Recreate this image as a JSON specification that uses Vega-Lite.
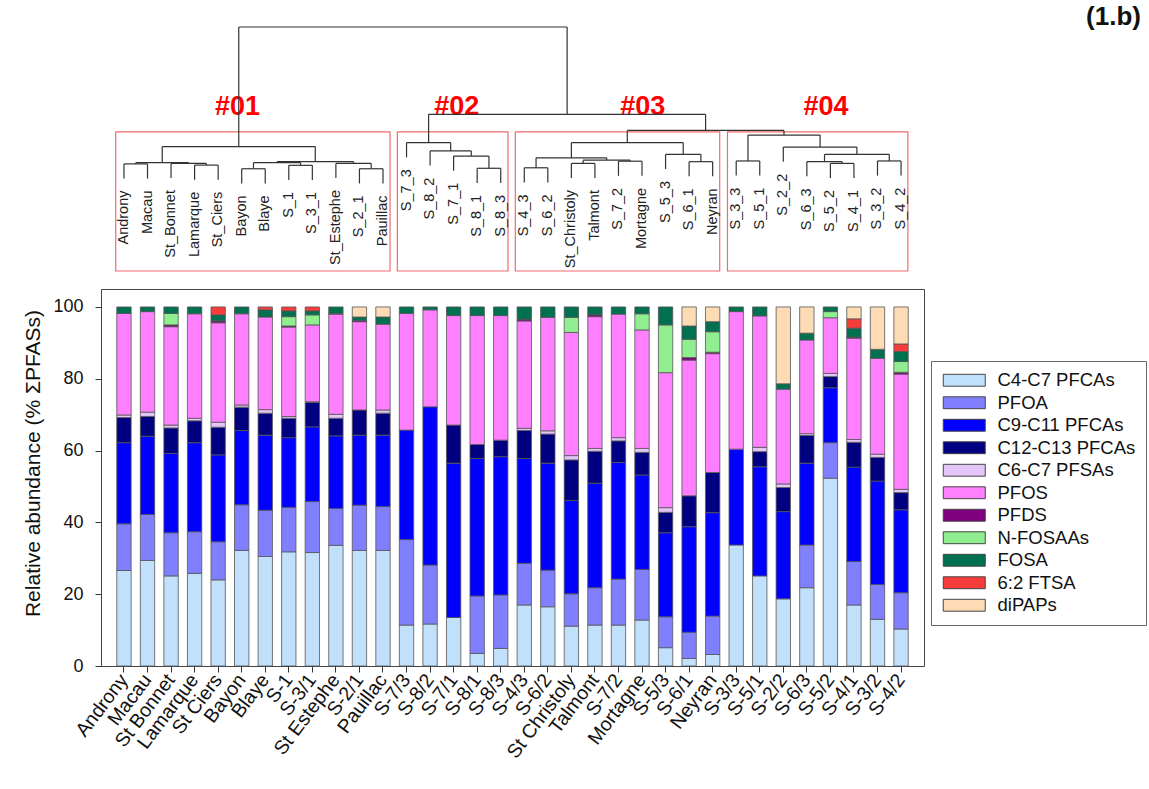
{
  "$schema": "https://vega.github.io/schema/vega-lite/v6.json",
  "background": "white",
  "padding": {"left": 22, "top": 4, "right": 0, "bottom": 0},
  "config": {
    "font": "Liberation Sans",
    "view": {"stroke": "#444"}
  },
  "title": {
    "text": "(1.b)",
    "anchor": "end",
    "fontSize": 26,
    "fontWeight": "bold",
    "color": "#111",
    "offset": -4,
    "dx": -6
  },
  "datasets": {
    "classes": [
      {"class": "C4-C7 PFCAs", "rank": 1},
      {"class": "PFOA", "rank": 2},
      {"class": "C9-C11 PFCAs", "rank": 3},
      {"class": "C12-C13 PFCAs", "rank": 4},
      {"class": "C6-C7 PFSAs", "rank": 5},
      {"class": "PFOS", "rank": 6},
      {"class": "PFDS", "rank": 7},
      {"class": "N-FOSAAs", "rank": 8},
      {"class": "FOSA", "rank": 9},
      {"class": "6:2 FTSA", "rank": 10},
      {"class": "diPAPs", "rank": 11}
    ],
    "profiles": [
      {"site": "Androny", "C4-C7 PFCAs": 26.6, "PFOA": 13.0, "C9-C11 PFCAs": 22.6, "C12-C13 PFCAs": 7.0, "C6-C7 PFSAs": 0.7, "PFOS": 28.3, "FOSA": 1.8},
      {"site": "Macau", "C4-C7 PFCAs": 29.4, "PFOA": 12.8, "C9-C11 PFCAs": 21.8, "C12-C13 PFCAs": 5.5, "C6-C7 PFSAs": 1.2, "PFOS": 28.0, "FOSA": 1.3},
      {"site": "St Bonnet", "C4-C7 PFCAs": 25.1, "PFOA": 12.0, "C9-C11 PFCAs": 22.1, "C12-C13 PFCAs": 7.1, "C6-C7 PFSAs": 0.8, "PFOS": 27.4, "PFDS": 0.5, "N-FOSAAs": 3.2, "FOSA": 1.8},
      {"site": "Lamarque", "C4-C7 PFCAs": 25.8, "PFOA": 11.6, "C9-C11 PFCAs": 24.8, "C12-C13 PFCAs": 6.1, "C6-C7 PFSAs": 0.7, "PFOS": 29.1, "FOSA": 1.9},
      {"site": "St Ciers", "C4-C7 PFCAs": 24.0, "PFOA": 10.6, "C9-C11 PFCAs": 24.2, "C12-C13 PFCAs": 7.7, "C6-C7 PFSAs": 1.4, "PFOS": 27.7, "PFDS": 0.5, "FOSA": 1.7, "6:2 FTSA": 2.2},
      {"site": "Bayon", "C4-C7 PFCAs": 32.2, "PFOA": 12.7, "C9-C11 PFCAs": 20.7, "C12-C13 PFCAs": 6.5, "C6-C7 PFSAs": 0.6, "PFOS": 25.4, "FOSA": 1.9},
      {"site": "Blaye", "C4-C7 PFCAs": 30.5, "PFOA": 12.9, "C9-C11 PFCAs": 20.9, "C12-C13 PFCAs": 6.1, "C6-C7 PFSAs": 1.0, "PFOS": 25.8, "FOSA": 2.0, "6:2 FTSA": 0.8},
      {"site": "S-1", "C4-C7 PFCAs": 31.8, "PFOA": 12.4, "C9-C11 PFCAs": 19.4, "C12-C13 PFCAs": 5.4, "C6-C7 PFSAs": 0.5, "PFOS": 24.9, "PFDS": 0.3, "N-FOSAAs": 2.6, "FOSA": 1.6, "6:2 FTSA": 1.1},
      {"site": "S-3/1", "C4-C7 PFCAs": 31.6, "PFOA": 14.2, "C9-C11 PFCAs": 20.8, "C12-C13 PFCAs": 6.8, "C6-C7 PFSAs": 0.2, "PFOS": 21.4, "N-FOSAAs": 2.8, "FOSA": 1.1, "6:2 FTSA": 1.1},
      {"site": "St Estephe", "C4-C7 PFCAs": 33.6, "PFOA": 10.3, "C9-C11 PFCAs": 20.2, "C12-C13 PFCAs": 4.9, "C6-C7 PFSAs": 1.1, "PFOS": 27.9, "PFDS": 0.2, "FOSA": 1.8},
      {"site": "S-2/1", "C4-C7 PFCAs": 32.2, "PFOA": 12.6, "C9-C11 PFCAs": 19.5, "C12-C13 PFCAs": 7.0, "PFOS": 24.6, "PFDS": 0.3, "FOSA": 1.0, "diPAPs": 2.8},
      {"site": "Pauillac", "C4-C7 PFCAs": 32.2, "PFOA": 12.2, "C9-C11 PFCAs": 19.9, "C12-C13 PFCAs": 6.1, "C6-C7 PFSAs": 0.9, "PFOS": 23.9, "FOSA": 2.0, "diPAPs": 2.8},
      {"site": "S-7/3", "C4-C7 PFCAs": 11.4, "PFOA": 23.8, "C9-C11 PFCAs": 30.5, "PFOS": 32.5, "FOSA": 1.8},
      {"site": "S-8/2", "C4-C7 PFCAs": 11.7, "PFOA": 16.4, "C9-C11 PFCAs": 44.1, "PFOS": 27.0, "FOSA": 0.8},
      {"site": "S-7/1", "C4-C7 PFCAs": 13.5, "C9-C11 PFCAs": 43.0, "C12-C13 PFCAs": 10.6, "PFOS": 30.5, "FOSA": 2.4},
      {"site": "S-8/1", "C4-C7 PFCAs": 3.5, "PFOA": 16.0, "C9-C11 PFCAs": 38.3, "C12-C13 PFCAs": 3.9, "PFOS": 35.9, "FOSA": 2.4},
      {"site": "S-8/3", "C4-C7 PFCAs": 4.9, "PFOA": 14.9, "C9-C11 PFCAs": 38.5, "C12-C13 PFCAs": 4.6, "PFOS": 34.7, "FOSA": 2.4},
      {"site": "S-4/3", "C4-C7 PFCAs": 17.0, "PFOA": 11.6, "C9-C11 PFCAs": 29.2, "C12-C13 PFCAs": 7.8, "C6-C7 PFSAs": 0.6, "PFOS": 29.9, "PFDS": 0.5, "FOSA": 3.4},
      {"site": "S-6/2", "C4-C7 PFCAs": 16.5, "PFOA": 10.2, "C9-C11 PFCAs": 29.8, "C12-C13 PFCAs": 8.1, "C6-C7 PFSAs": 0.9, "PFOS": 31.6, "FOSA": 2.9},
      {"site": "St Christoly", "C4-C7 PFCAs": 11.1, "PFOA": 9.0, "C9-C11 PFCAs": 26.0, "C12-C13 PFCAs": 11.3, "C6-C7 PFSAs": 1.2, "PFOS": 34.3, "N-FOSAAs": 4.2, "FOSA": 2.9},
      {"site": "Talmont", "C4-C7 PFCAs": 11.4, "PFOA": 10.4, "C9-C11 PFCAs": 29.1, "C12-C13 PFCAs": 8.9, "C6-C7 PFSAs": 0.8, "PFOS": 36.7, "PFDS": 0.5, "FOSA": 2.2},
      {"site": "S-7/2", "C4-C7 PFCAs": 11.4, "PFOA": 12.8, "C9-C11 PFCAs": 32.5, "C12-C13 PFCAs": 6.0, "C6-C7 PFSAs": 0.9, "PFOS": 34.4, "FOSA": 2.0},
      {"site": "Mortagne", "C4-C7 PFCAs": 12.8, "PFOA": 14.1, "C9-C11 PFCAs": 26.3, "C12-C13 PFCAs": 6.3, "C6-C7 PFSAs": 1.1, "PFOS": 33.0, "N-FOSAAs": 4.5, "FOSA": 1.9},
      {"site": "S-5/3", "C4-C7 PFCAs": 5.1, "PFOA": 8.6, "C9-C11 PFCAs": 23.4, "C12-C13 PFCAs": 5.7, "C6-C7 PFSAs": 1.3, "PFOS": 37.6, "N-FOSAAs": 13.3, "FOSA": 5.0},
      {"site": "S-6/1", "C4-C7 PFCAs": 2.1, "PFOA": 7.3, "C9-C11 PFCAs": 29.4, "C12-C13 PFCAs": 8.6, "PFOS": 37.8, "PFDS": 0.7, "N-FOSAAs": 5.1, "FOSA": 3.7, "diPAPs": 5.3},
      {"site": "Neyran", "C4-C7 PFCAs": 3.2, "PFOA": 10.7, "C9-C11 PFCAs": 28.8, "C12-C13 PFCAs": 11.2, "PFOS": 33.1, "PFDS": 0.4, "N-FOSAAs": 5.7, "FOSA": 2.8, "diPAPs": 4.1},
      {"site": "S-3/3", "C4-C7 PFCAs": 33.7, "C9-C11 PFCAs": 26.7, "PFOS": 38.3, "FOSA": 1.3},
      {"site": "S-5/1", "C4-C7 PFCAs": 25.1, "C9-C11 PFCAs": 30.4, "C12-C13 PFCAs": 4.2, "C6-C7 PFSAs": 1.2, "PFOS": 36.6, "FOSA": 2.5},
      {"site": "S-2/2", "C4-C7 PFCAs": 18.7, "C9-C11 PFCAs": 24.3, "C12-C13 PFCAs": 6.7, "C6-C7 PFSAs": 1.0, "PFOS": 26.4, "FOSA": 1.5, "diPAPs": 21.4},
      {"site": "S-6/3", "C4-C7 PFCAs": 21.8, "PFOA": 11.9, "C9-C11 PFCAs": 22.8, "C12-C13 PFCAs": 7.7, "C6-C7 PFSAs": 0.5, "PFOS": 26.1, "FOSA": 1.9, "diPAPs": 7.3},
      {"site": "S-5/2", "C4-C7 PFCAs": 52.3, "PFOA": 9.9, "C9-C11 PFCAs": 15.3, "C12-C13 PFCAs": 3.1, "C6-C7 PFSAs": 0.9, "PFOS": 15.5, "N-FOSAAs": 1.7, "FOSA": 1.3},
      {"site": "S-4/1", "C4-C7 PFCAs": 17.0, "PFOA": 12.1, "C9-C11 PFCAs": 26.3, "C12-C13 PFCAs": 6.9, "C6-C7 PFSAs": 0.8, "PFOS": 28.2, "PFDS": 0.3, "FOSA": 2.5, "6:2 FTSA": 2.6, "diPAPs": 3.3},
      {"site": "S-3/2", "C4-C7 PFCAs": 13.0, "PFOA": 9.7, "C9-C11 PFCAs": 28.8, "C12-C13 PFCAs": 6.6, "C6-C7 PFSAs": 0.9, "PFOS": 26.7, "FOSA": 2.5, "diPAPs": 11.8},
      {"site": "S-4/2", "C4-C7 PFCAs": 10.3, "PFOA": 10.1, "C9-C11 PFCAs": 23.1, "C12-C13 PFCAs": 4.8, "C6-C7 PFSAs": 0.9, "PFOS": 32.1, "PFDS": 0.5, "N-FOSAAs": 3.0, "FOSA": 2.8, "6:2 FTSA": 2.1, "diPAPs": 10.3}
    ],
    "leaves": [
      {"leaf": "Androny", "pos": 0, "tip": 3.79},
      {"leaf": "Macau", "pos": 1, "tip": 3.79},
      {"leaf": "St_Bonnet", "pos": 2, "tip": 3.81},
      {"leaf": "Lamarque", "pos": 3, "tip": 3.74},
      {"leaf": "St_Ciers", "pos": 4, "tip": 3.74},
      {"leaf": "Bayon", "pos": 5, "tip": 3.59},
      {"leaf": "Blaye", "pos": 6, "tip": 3.59},
      {"leaf": "S_1", "pos": 7, "tip": 3.73},
      {"leaf": "S_3_1", "pos": 8, "tip": 3.73},
      {"leaf": "St_Estephe", "pos": 9, "tip": 3.81},
      {"leaf": "S_2_1", "pos": 10, "tip": 3.59},
      {"leaf": "Pauillac", "pos": 11, "tip": 3.59},
      {"leaf": "S_7_3", "pos": 12, "tip": 4.66},
      {"leaf": "S_8_2", "pos": 13, "tip": 4.32},
      {"leaf": "S_7_1", "pos": 14, "tip": 4.11},
      {"leaf": "S_8_1", "pos": 15, "tip": 3.61},
      {"leaf": "S_8_3", "pos": 16, "tip": 3.61},
      {"leaf": "S_4_3", "pos": 17, "tip": 3.63},
      {"leaf": "S_6_2", "pos": 18, "tip": 3.63},
      {"leaf": "St_Christoly", "pos": 19, "tip": 3.81},
      {"leaf": "Talmont", "pos": 20, "tip": 3.81},
      {"leaf": "S_7_2", "pos": 21, "tip": 3.90},
      {"leaf": "Mortagne", "pos": 22, "tip": 3.90},
      {"leaf": "S_5_3", "pos": 23, "tip": 4.18},
      {"leaf": "S_6_1", "pos": 24, "tip": 3.88},
      {"leaf": "Neyran", "pos": 25, "tip": 3.88},
      {"leaf": "S_3_3", "pos": 26, "tip": 3.91},
      {"leaf": "S_5_1", "pos": 27, "tip": 3.91},
      {"leaf": "S_2_2", "pos": 28, "tip": 4.48},
      {"leaf": "S_6_3", "pos": 29, "tip": 3.88},
      {"leaf": "S_5_2", "pos": 30, "tip": 3.81},
      {"leaf": "S_4_1", "pos": 31, "tip": 3.81},
      {"leaf": "S_3_2", "pos": 32, "tip": 3.91},
      {"leaf": "S_4_2", "pos": 33, "tip": 3.91}
    ],
    "merges": [
      {"left": 0, "right": 1, "height": 4.39, "left_h": 3.79, "right_h": 3.79},
      {"left": 3, "right": 4, "height": 4.34, "left_h": 3.74, "right_h": 3.74},
      {"left": 2, "right": 3.5, "height": 4.41, "left_h": 3.81, "right_h": 4.34},
      {"left": 0.5, "right": 2.75, "height": 4.44, "left_h": 4.39, "right_h": 4.41},
      {"left": 5, "right": 6, "height": 4.19, "left_h": 3.59, "right_h": 3.59},
      {"left": 7, "right": 8, "height": 4.33, "left_h": 3.73, "right_h": 3.73},
      {"left": 10, "right": 11, "height": 4.19, "left_h": 3.59, "right_h": 3.59},
      {"left": 9, "right": 10.5, "height": 4.41, "left_h": 3.81, "right_h": 4.19},
      {"left": 5.5, "right": 7.5, "height": 4.44, "left_h": 4.19, "right_h": 4.33},
      {"left": 6.5, "right": 9.75, "height": 4.48, "left_h": 4.44, "right_h": 4.41},
      {"left": 1.625, "right": 8.125, "height": 5.10, "left_h": 4.44, "right_h": 4.48},
      {"left": 15, "right": 16, "height": 4.21, "left_h": 3.61, "right_h": 3.61},
      {"left": 14, "right": 15.5, "height": 4.71, "left_h": 4.11, "right_h": 4.21},
      {"left": 13, "right": 14.75, "height": 4.92, "left_h": 4.32, "right_h": 4.71},
      {"left": 12, "right": 13.875, "height": 5.26, "left_h": 4.66, "right_h": 4.92},
      {"left": 17, "right": 18, "height": 4.23, "left_h": 3.63, "right_h": 3.63},
      {"left": 19, "right": 20, "height": 4.41, "left_h": 3.81, "right_h": 3.81},
      {"left": 21, "right": 22, "height": 4.50, "left_h": 3.90, "right_h": 3.90},
      {"left": 19.5, "right": 21.5, "height": 4.54, "left_h": 4.41, "right_h": 4.50},
      {"left": 17.5, "right": 20.5, "height": 4.64, "left_h": 4.23, "right_h": 4.54},
      {"left": 24, "right": 25, "height": 4.48, "left_h": 3.88, "right_h": 3.88},
      {"left": 23, "right": 24.5, "height": 4.78, "left_h": 4.18, "right_h": 4.48},
      {"left": 19, "right": 23.75, "height": 5.26, "left_h": 4.64, "right_h": 4.78},
      {"left": 26, "right": 27, "height": 4.51, "left_h": 3.91, "right_h": 3.91},
      {"left": 30, "right": 31, "height": 4.41, "left_h": 3.81, "right_h": 3.81},
      {"left": 29, "right": 30.5, "height": 4.48, "left_h": 3.88, "right_h": 4.41},
      {"left": 32, "right": 33, "height": 4.51, "left_h": 3.91, "right_h": 3.91},
      {"left": 29.75, "right": 32.5, "height": 4.78, "left_h": 4.48, "right_h": 4.51},
      {"left": 28, "right": 31.125, "height": 5.08, "left_h": 4.48, "right_h": 4.78},
      {"left": 26.5, "right": 29.5625, "height": 5.57, "left_h": 4.51, "right_h": 5.08},
      {"left": 21.375, "right": 28.03, "height": 5.76, "left_h": 5.26, "right_h": 5.57},
      {"left": 12.9375, "right": 24.7, "height": 6.42, "left_h": 5.26, "right_h": 5.76},
      {"left": 4.875, "right": 18.82, "height": 10, "left_h": 5.10, "right_h": 6.42}
    ],
    "clusters": [
      {"cluster": "#01", "start": -0.35, "end": 11.3, "label_x": 4.82},
      {"cluster": "#02", "start": 11.61, "end": 16.31, "label_x": 14.13},
      {"cluster": "#03", "start": 16.62, "end": 25.3, "label_x": 22.03},
      {"cluster": "#04", "start": 25.63, "end": 33.29, "label_x": 29.81}
    ]
  },
  "spacing": 16,
  "resolve": {"legend": {"color": "independent"}},
  "vconcat": [
    {
      "width": 823,
      "height": 244,
      "view": {"stroke": null},
      "layer": [
        {
          "data": {"name": "clusters"},
          "mark": {"type": "rect", "fill": "transparent", "stroke": "#f26b6b", "strokeWidth": 1.2},
          "encoding": {
            "x": {"field": "start", "type": "quantitative", "scale": {"domain": [-0.975, 33.975], "nice": false, "zero": false}, "axis": null},
            "x2": {"field": "end"},
            "y": {"datum": 5.7, "type": "quantitative", "scale": {"domain": [0, 10], "nice": false}, "axis": null},
            "y2": {"datum": 0}
          }
        },
        {
          "data": {"name": "clusters"},
          "mark": {"type": "text", "fontSize": 27, "fontWeight": "bold", "color": "#ff0000", "baseline": "middle", "align": "center"},
          "encoding": {
            "x": {"field": "label_x", "type": "quantitative"},
            "y": {"datum": 6.72, "type": "quantitative"},
            "text": {"field": "cluster"}
          }
        },
        {
          "data": {"name": "merges"},
          "mark": {"type": "rule", "color": "#333", "strokeWidth": 1.2},
          "encoding": {
            "x": {"field": "left", "type": "quantitative"},
            "x2": {"field": "right"},
            "y": {"field": "height", "type": "quantitative"}
          }
        },
        {
          "data": {"name": "merges"},
          "mark": {"type": "rule", "color": "#333", "strokeWidth": 1.2},
          "encoding": {
            "x": {"field": "left", "type": "quantitative"},
            "y": {"field": "height", "type": "quantitative"},
            "y2": {"field": "left_h"}
          }
        },
        {
          "data": {"name": "merges"},
          "mark": {"type": "rule", "color": "#333", "strokeWidth": 1.2},
          "encoding": {
            "x": {"field": "right", "type": "quantitative"},
            "y": {"field": "height", "type": "quantitative"},
            "y2": {"field": "right_h"}
          }
        },
        {
          "data": {"name": "leaves"},
          "mark": {"type": "text", "angle": 270, "align": "right", "baseline": "middle", "dx": -12, "fontSize": 14.5, "color": "#222"},
          "encoding": {
            "x": {"field": "pos", "type": "quantitative"},
            "y": {"field": "tip", "type": "quantitative"},
            "text": {"field": "leaf"}
          }
        }
      ]
    },
    {
      "width": 823,
      "height": 377,
      "data": {"name": "profiles"},
      "transform": [
        {"fold": ["C4-C7 PFCAs", "PFOA", "C9-C11 PFCAs", "C12-C13 PFCAs", "C6-C7 PFSAs", "PFOS", "PFDS", "N-FOSAAs", "FOSA", "6:2 FTSA", "diPAPs"], "as": ["class", "value"]},
        {"filter": "datum.value > 0"},
        {"lookup": "class", "from": {"data": {"name": "classes"}, "key": "class", "fields": ["rank"]}}
      ],
      "mark": {"type": "bar", "stroke": "#555", "strokeWidth": 0.8},
      "encoding": {
        "x": {
          "field": "site",
          "type": "nominal",
          "sort": null,
          "scale": {"paddingInner": 0.39, "paddingOuter": 0.67},
          "axis": {"title": null, "labelAngle": -53, "labelAlign": "right", "labelBaseline": "middle", "labelFontSize": 19.5, "labelColor": "#111", "labelPadding": 4, "tickSize": 6, "tickColor": "#333", "domain": false}
        },
        "y": {
          "field": "value",
          "type": "quantitative",
          "stack": "zero",
          "scale": {"domain": [0, 105], "nice": false},
          "axis": {"values": [0, 20, 40, 60, 80, 100], "grid": false, "domain": false, "tickSize": 6, "tickColor": "#333", "labelFontSize": 18, "labelColor": "#111", "labelPadding": 12, "title": "Relative abundance (% ΣPFASs)", "titleFontSize": 21, "titleFontWeight": "normal", "titleColor": "#111", "titlePadding": 9, "titleY": 174}
        },
        "color": {
          "field": "class",
          "type": "nominal",
          "scale": {
            "domain": ["C4-C7 PFCAs", "PFOA", "C9-C11 PFCAs", "C12-C13 PFCAs", "C6-C7 PFSAs", "PFOS", "PFDS", "N-FOSAAs", "FOSA", "6:2 FTSA", "diPAPs"],
            "range": ["#c1e0fb", "#8080ff", "#0000ff", "#000080", "#e3c6f7", "#ff80ff", "#7f007f", "#90ee90", "#007050", "#f83c3c", "#fddcb5"]
          },
          "legend": {
            "orient": "none",
            "legendX": 830,
            "legendY": 72,
            "title": null,
            "symbolType": "M-1,-0.85H5V0.85H-1Z",
            "symbolSize": 196,
            "symbolStrokeColor": "#444",
            "symbolStrokeWidth": 1,
            "symbolOpacity": 1,
            "labelFontSize": 18.5,
            "labelColor": "#111",
            "labelOffset": 38,
            "strokeColor": "#666",
            "padding": 10,
            "rowPadding": 3.5
          }
        },
        "order": {"field": "rank", "type": "quantitative"}
      }
    }
  ]
}
